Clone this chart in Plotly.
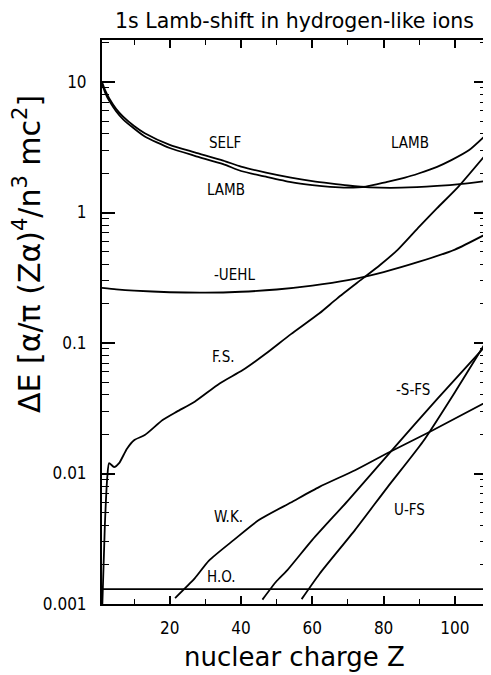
import numpy as np
import plotly.graph_objects as go

# ---------------- data ----------------
SELF_Z = [1, 2, 3, 5, 7, 10, 13, 20, 27, 35, 40, 47, 54, 60, 65, 70, 76, 85, 95, 102, 109]
SELF = [10.0, 8.5, 7.5, 6.2, 5.4, 4.6, 4.05, 3.3, 2.89, 2.5, 2.25, 2.02, 1.85, 1.74, 1.67,
        1.61, 1.56, 1.55, 1.6, 1.66, 1.75]

LAMB_Z = [1, 2, 3, 5, 7, 10, 13, 20, 27, 35, 40, 47, 54, 60, 65, 70, 75, 81, 86, 90, 95,
          99, 104, 109]
LAMB = [9.7, 8.15, 7.2, 5.95, 5.15, 4.4, 3.82, 3.12, 2.72, 2.35, 2.08, 1.88, 1.71, 1.62,
        1.57, 1.55, 1.58, 1.72, 1.85, 2.0, 2.24, 2.52, 3.01, 4.0]

UEHL_Z = [1, 5, 10, 20, 30, 40, 50, 60, 70, 80, 90, 100, 109]
UEHL = [0.265, 0.258, 0.252, 0.245, 0.243, 0.247, 0.257, 0.275, 0.303, 0.35, 0.42, 0.52, 0.69]

FS_Z = [1.1, 1.8, 2.5, 3, 4.4, 5.8, 8, 10, 13, 18, 22, 27, 34, 40.5, 47, 54, 62, 67, 74,
        79, 84, 90, 95, 101, 109]
FS = [0.001, 0.004, 0.0095, 0.012, 0.0112, 0.012, 0.0155, 0.018, 0.0197, 0.0257, 0.0298,
      0.0355, 0.049, 0.062, 0.083, 0.117, 0.169, 0.22, 0.31, 0.396, 0.52, 0.78, 1.08,
      1.58, 2.85]

WK_Z = [21.5, 27, 31, 38, 45, 54, 62, 72, 81, 93, 109]
WK = [0.00111, 0.00157, 0.00215, 0.0031, 0.0044, 0.006, 0.0079, 0.0106, 0.0143, 0.0209,
      0.0355]

SFS_Z = [46, 50, 53, 60, 70, 82, 95, 109]
SFS = [0.00108, 0.0015, 0.00182, 0.0031, 0.0062, 0.0147, 0.0372, 0.098]

UFS_Z = [57, 62, 72, 81, 91, 100, 109]
UFS = [0.00109, 0.0017, 0.0037, 0.0078, 0.0175, 0.042, 0.105]

HO_Z = [1, 109]
HO = [0.0013, 0.0013]

X_TICKS = [20, 40, 60, 80, 100]
X_TICKTEXT = ["20", "40", "60", "80", "100"]
Y_TICKS = [0.001, 0.01, 0.1, 1, 10]
Y_TICKTEXT = ["0.001", "0.01", "0.1", "1", "10"]

# curve labels: (text, Z, value)
LABELS = [
    ("SELF", 35.5, 3.39),
    ("LAMB", 35.9, 1.49),
    ("LAMB", 87.3, 3.39),
    ("-UEHL", 38.2, 0.332),
    ("F.S.", 35.0, 0.0785),
    ("-S-FS", 88.2, 0.0437),
    ("U-FS", 87.3, 0.00525),
    ("W.K.", 36.4, 0.00467),
    ("H.O.", 34.5, 0.00162),
]

SERIES = [
    (SELF_Z, SELF, "SELF"),
    (LAMB_Z, LAMB, "LAMB"),
    (UEHL_Z, UEHL, "-UEHL"),
    (FS_Z, FS, "F.S."),
    (WK_Z, WK, "W.K."),
    (SFS_Z, SFS, "-S-FS"),
    (UFS_Z, UFS, "U-FS"),
    (HO_Z, HO, "H.O."),
]

LABEL_FONT = "DejaVu Sans Condensed, Liberation Sans Narrow, DejaVu Sans, sans-serif"
BIG_FONT = "DejaVu Sans, Liberation Sans, sans-serif"

fig = go.Figure()
for zx, vals, name in SERIES:
    fig.add_trace(go.Scatter(
        x=zx, y=vals, mode="lines", name=name,
        line=dict(color="black", width=1.8, shape="spline", smoothing=0.6),
        showlegend=False, hoverinfo="skip",
    ))

for text, zx, val in LABELS:
    fig.add_annotation(
        x=zx, y=np.log10(val), xref="x", yref="y", text=text, showarrow=False,
        font=dict(family=LABEL_FONT, size=15, color="black"),
        xanchor="center", yanchor="middle",
    )

# axis titles
fig.add_annotation(
    x=0.5, y=0.0, xref="paper", yref="paper", yshift=-53,
    text="nuclear charge Z", showarrow=False,
    font=dict(family=BIG_FONT, size=26, color="black"),
    xanchor="center", yanchor="middle",
)
fig.add_annotation(
    x=0, y=0.5, xref="paper", yref="paper", xshift=-75, yshift=68,
    text="ΔE [α/π (Zα)<sup>4</sup>/n<sup>3</sup> mc<sup>2</sup>]", showarrow=False,
    textangle=-90,
    font=dict(family=BIG_FONT, size=30, color="black"),
    xanchor="center", yanchor="middle",
)

fig.update_layout(
    width=483, height=667,
    margin=dict(l=94, r=2, t=32, b=71),
    paper_bgcolor="white", plot_bgcolor="white",
    title=dict(
        text="1s Lamb-shift in hydrogen-like ions",
        x=0.5, xref="paper", xanchor="center",
        y=1 - 13 / 667, yref="container", yanchor="middle",
        font=dict(family=BIG_FONT, size=20.5, color="black"),
    ),
)

fig.update_xaxes(
    range=[1, 109], showgrid=False, zeroline=False,
    showline=True, linecolor="black", linewidth=2, mirror="allticks",
    ticks="inside", ticklen=8, tickwidth=1.5, tickcolor="black",
    tickvals=X_TICKS, ticktext=X_TICKTEXT,
    ticklabelstandoff=8,
    tickfont=dict(family=LABEL_FONT, size=17, color="black"),
    minor=dict(ticks="inside", ticklen=5, tickwidth=1.2, tickcolor="black",
               dtick=10, tick0=0, showgrid=False),
)
fig.update_yaxes(
    type="log", range=[-3, 1.322], showgrid=False, zeroline=False,
    showline=True, linecolor="black", linewidth=2, mirror="allticks",
    ticks="inside", ticklen=13, tickwidth=1.5, tickcolor="black",
    tickvals=Y_TICKS, ticktext=Y_TICKTEXT,
    ticklabelstandoff=10,
    tickfont=dict(family=LABEL_FONT, size=17, color="black"),
    minor=dict(ticks="inside", ticklen=7, tickwidth=1.2, tickcolor="black",
               dtick="D1", showgrid=False),
)

fig.write_html("out.html")
